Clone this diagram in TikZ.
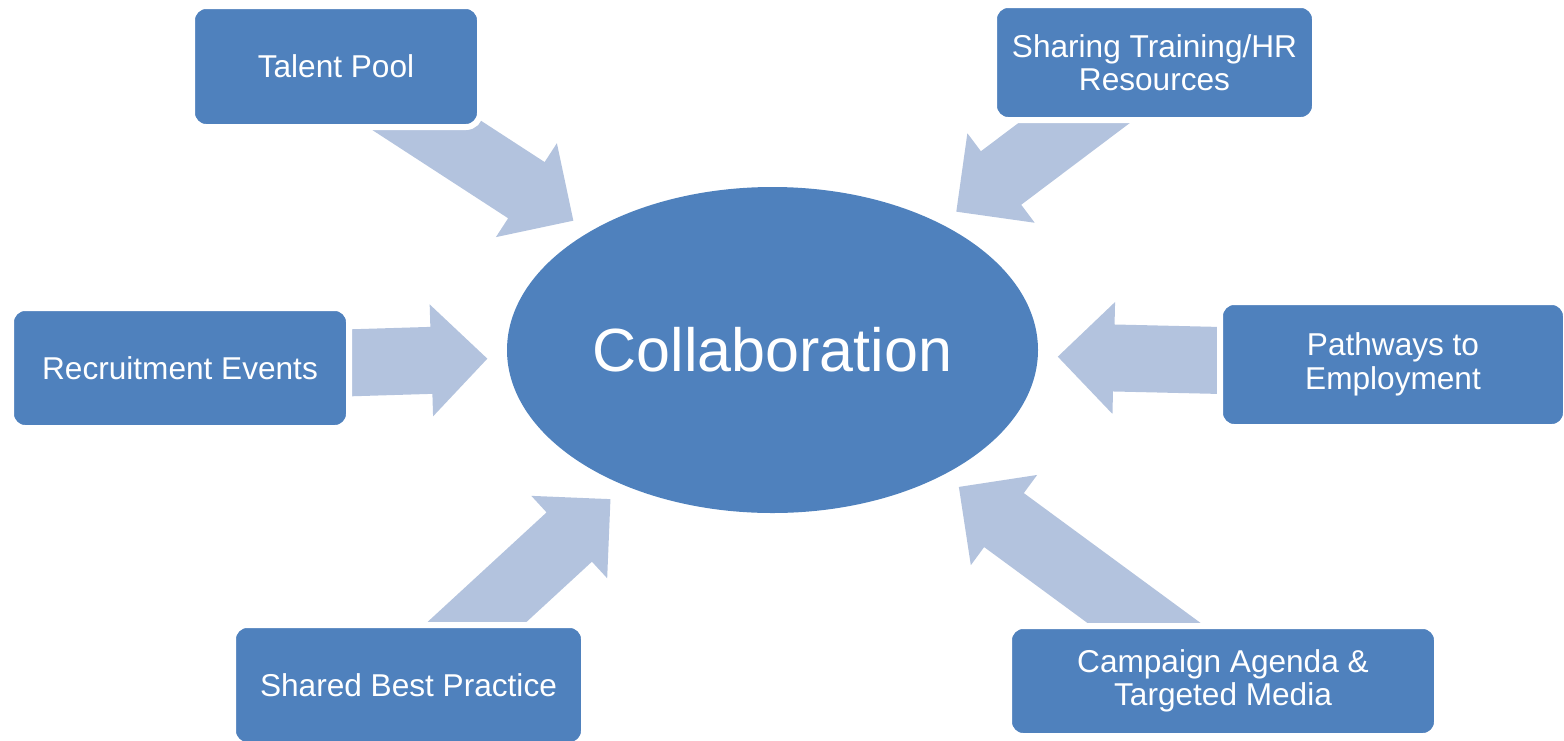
\documentclass[tikz,border=0pt]{standalone}
\usepackage{fontspec}
\setmainfont{Liberation Sans}
\usetikzlibrary{calc,shapes.geometric,backgrounds}
\definecolor{boxblue}{HTML}{4F81BD}
\definecolor{arrowblue}{HTML}{B3C3DE}

\begin{document}
\begin{tikzpicture}[x=0.5pt,y=-0.5pt,
    topic/.style={rectangle,rounded corners=7pt,fill=boxblue,draw=white,line width=3pt,
      text=white,align=center,inner sep=0pt,font=\fontsize{15.8}{16.8}\selectfont},
    hub/.style={ellipse,fill=boxblue,text=white,inner sep=0pt,outer sep=0pt,
      minimum width=265.5pt,minimum height=163pt,font=\fontsize{30.5}{36}\selectfont}]
 \useasboundingbox (0,0) rectangle (1564,740);
 \node[hub] (collab) at (772.5,350) {Collaboration};
 \node[topic,minimum width=144pt,minimum height=60.5pt] (talent) at (336,66.5) {Talent Pool};
 \node[topic,minimum width=160.5pt,minimum height=57.5pt] (sharing) at (1154.5,62.5)
  {Sharing Training/HR\\Resources};
 \node[topic,minimum width=169pt,minimum height=60pt] (recruit) at (180,368) {Recruitment Events};
 \node[topic,minimum width=173pt,minimum height=62.5pt] (pathways) at (1393,364.5)
  {Pathways to\\Employment};
 \node[topic,minimum width=175.5pt,minimum height=60pt] (shared) at (408.5,685) {Shared Best Practice};
 \node[topic,minimum width=214pt,minimum height=55pt] (campaign) at (1223,681)
  {Campaign Agenda \&\\Targeted Media};
 \begin{scope}[on background layer]
  \foreach \b in {talent,sharing,recruit,pathways,shared,campaign} {
   \path (\b.center) -- coordinate[pos=1] (e-\b) (collab);
   \coordinate (t-\b) at ($(e-\b)!10pt!(\b.center)$);
   \coordinate (h-\b) at ($(t-\b)!28pt!(\b.center)$);
   \fill[arrowblue] ($(\b.center)!16.75pt!-90:(h-\b)$) -- ($(h-\b)!16.75pt!90:(\b.center)$)
    -- ($(h-\b)!28pt!90:(\b.center)$) -- (t-\b) -- ($(h-\b)!28pt!-90:(\b.center)$)
    -- ($(h-\b)!16.75pt!-90:(\b.center)$) -- ($(\b.center)!16.75pt!90:(h-\b)$) -- cycle;
  }
 \end{scope}
\end{tikzpicture}
\end{document}
